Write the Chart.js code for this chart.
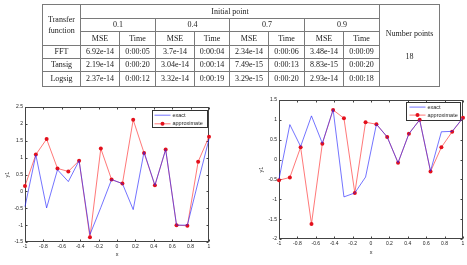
<!doctype html>
<html lang="en">
<head>
<meta charset="utf-8">
<title>Transfer function comparison</title>
<style>
  * { margin: 0; padding: 0; }
  body { width: 467px; height: 265px; background: #fff; position: relative; overflow: hidden; }
  table.res {
    position: absolute; left: 42px; top: 4px; width: 397px;
    border-collapse: collapse; table-layout: fixed;
    font-family: "Liberation Serif", "DejaVu Serif", serif; font-size: 8px; color: #1a1a1a;
    will-change: transform;
  }
  table.res td {
    border: 1px solid #7a7a7a; text-align: center; vertical-align: middle;
    padding: 0; line-height: 11.5px; white-space: nowrap;
  }
  .chartBox { position: absolute; }
</style>
</head>
<body>

<table class="res" id="resTable">
  <colgroup>
    <col style="width:38px"><col style="width:39px"><col style="width:36px"><col style="width:39px"><col style="width:35px">
    <col style="width:39px"><col style="width:36px"><col style="width:39px"><col style="width:36px"><col style="width:60px">
  </colgroup>
  <tbody id="resBody"></tbody>
</table>

<div class="chartBox" style="left:0;top:100px"><canvas id="chartLeft" width="230" height="165"></canvas></div>
<div class="chartBox" style="left:240px;top:90px"><canvas id="chartRight" width="227" height="175"></canvas></div>

<script src="https://cdn.jsdelivr.net/npm/chart.js"></script>
<script>
// ---- table data
const initialPoints = ['0.1', '0.4', '0.7', '0.9'];
const transferFns = ['FFT', 'Tansig', 'Logsig'];
const rowFFT    = ['6.92e-14', '0:00:05', '3.7e-14',  '0:00:04', '2.34e-14', '0:00:06', '3.48e-14', '0:00:09'];
const rowTansig = ['2.19e-14', '0:00:20', '3.04e-14', '0:00:14', '7.49e-15', '0:00:13', '8.83e-15', '0:00:20'];
const rowLogsig = ['2.37e-14', '0:00:12', '3.32e-14', '0:00:19', '3.29e-15', '0:00:20', '2.93e-14', '0:00:18'];
const numberPoints = '18';

// ---- chart data
const xVals = [-1, -0.882, -0.765, -0.647, -0.529, -0.412, -0.294, -0.176, -0.059,
               0.059, 0.176, 0.294, 0.412, 0.529, 0.647, 0.765, 0.882, 1];
const xTicks = [-1, -0.8, -0.6, -0.4, -0.2, 0, 0.2, 0.4, 0.6, 0.8, 1];

const exactLeft  = [-0.45, 1.08, -0.49, 0.64, 0.29, 0.91, -1.28, -0.48, 0.35, 0.23, -0.54, 1.17, 0.18, 1.24, -1.0, -1.0, 0.28, 1.55];
const approxLeft = [0.16, 1.09, 1.55, 0.68, 0.59, 0.91, -1.36, 1.27, 0.35, 0.23, 2.12, 1.14, 0.18, 1.24, -1.0, -1.02, 0.88, 1.62];
const yTicksLeft = [-1.5, -1, -0.5, 0, 0.5, 1, 1.5, 2, 2.5];

const exactRight  = [-0.49, 0.88, 0.33, 1.10, 0.41, 1.26, -0.94, -0.84, -0.44, 0.89, 0.57, -0.08, 0.65, 1.0, -0.29, 0.70, 0.71, 1.05];
const approxRight = [-0.52, -0.45, 0.31, -1.62, 0.40, 1.25, 1.04, -0.84, 0.94, 0.89, 0.57, -0.08, 0.65, 1.0, -0.30, 0.31, 0.70, 1.05];
const yTicksRight = [-2, -1.5, -1, -0.5, 0, 0.5, 1, 1.5];

// build the table
(function buildTable() {
  const body = document.getElementById('resBody');
  let html = '<tr style="height:14px"><td rowspan="3">Transfer<br>function</td><td colspan="8">Initial point</td>' +
             '<td rowspan="6">Number points<br><br>' + numberPoints + '</td></tr>';
  html += '<tr style="height:13px">' + initialPoints.map(p => '<td colspan="2">' + p + '</td>').join('') + '</tr>';
  html += '<tr style="height:14px">' + initialPoints.map(() => '<td>MSE</td><td>Time</td>').join('') + '</tr>';
  const rows = [rowFFT, rowTansig, rowLogsig];
  const hs = [13, 13, 15];
  rows.forEach((r, i) => {
    html += '<tr style="height:' + hs[i] + 'px"><td>' + transferFns[i] + '</td>' + r.map(v => '<td>' + v + '</td>').join('') + '</tr>';
  });
  body.innerHTML = html;
})();

const FONT = '"Liberation Sans", Arial, sans-serif';

// matlab-ish box, inward ticks and boxed legend
const matlabAxes = {
  id: 'matlabAxes',
  beforeDatasetsDraw(chart, args, opts) {
    const ctx = chart.ctx, a = chart.chartArea;
    const xs = chart.scales.x, ys = chart.scales.y;
    ctx.save();
    ctx.strokeStyle = '#444';
    ctx.lineWidth = 1;
    const L = Math.round(a.left) + 0.5, R = Math.round(a.right) - 0.5;
    const T = Math.round(a.top) + 0.5, B = Math.round(a.bottom) - 0.5;
    ctx.strokeRect(L, T, R - L, B - T);
    ctx.beginPath();
    xs.ticks.forEach(t => {
      const px = Math.round(xs.getPixelForValue(t.value)) + 0.5;
      ctx.moveTo(px, B); ctx.lineTo(px, B - 2);
      ctx.moveTo(px, T); ctx.lineTo(px, T + 2);
    });
    ys.ticks.forEach(t => {
      const py = Math.round(ys.getPixelForValue(t.value)) + 0.5;
      ctx.moveTo(L, py); ctx.lineTo(L + 2, py);
      ctx.moveTo(R, py); ctx.lineTo(R - 2, py);
    });
    ctx.stroke();

    // legend
    const g = opts.box;
    const bx = Math.round(a.right - g.right - g.w) + 0.5, by = Math.round(a.top + g.top) + 0.5;
    ctx.fillStyle = '#fff';
    ctx.fillRect(bx, by, g.w, g.h);
    ctx.strokeStyle = '#333';
    ctx.strokeRect(bx, by, g.w, g.h);
    ctx.font = '5.5px ' + FONT;
    ctx.textBaseline = 'middle';
    chart.data.datasets.forEach((ds, i) => {
      const y = by + g.rows[i];
      ctx.strokeStyle = ds.borderColor;
      ctx.lineWidth = 1;
      ctx.beginPath();
      ctx.moveTo(bx + g.x0, y); ctx.lineTo(bx + g.x1, y);
      ctx.stroke();
      if (ds.pointRadius > 0) {
        ctx.fillStyle = ds.pointBackgroundColor;
        ctx.beginPath();
        ctx.arc(bx + (g.x0 + g.x1) / 2, y, ds.pointRadius, 0, Math.PI * 2);
        ctx.fill();
      }
      ctx.fillStyle = '#222';
      ctx.fillText(ds.label, bx + g.tx, y);
    });
    ctx.restore();
  }
};

function makeChart(id, exact, approx, yTicks, geo) {
  const tickFont = { size: 5, family: FONT };
  return new Chart(document.getElementById(id), {
    type: 'line',
    data: {
      datasets: [{
        label: 'exact',
        data: xVals.map((x, i) => ({ x: x, y: exact[i] })),
        borderColor: 'rgba(30,30,255,0.62)',
        borderWidth: 1,
        pointRadius: 0,
        tension: 0,
        clip: 4
      }, {
        label: 'approximate',
        data: xVals.map((x, i) => ({ x: x, y: approx[i] })),
        borderColor: 'rgba(255,30,30,0.6)',
        borderWidth: 1,
        pointRadius: 2,
        pointBorderWidth: 0,
        pointBackgroundColor: '#e3101c',
        tension: 0,
        clip: 4
      }]
    },
    options: {
      responsive: false,
      animation: false,
      layout: { padding: { top: geo.padTop, right: geo.padRight, left: 0, bottom: 0 } },
      plugins: {
        legend: { display: false },
        tooltip: { enabled: false },
        matlabAxes: { box: geo.legend }
      },
      scales: {
        x: {
          type: 'linear', min: -1, max: 1,
          afterBuildTicks: s => { s.ticks = xTicks.map(v => ({ value: v })); },
          afterFit: s => { s.height = geo.xH; },
          grid: { display: false, drawTicks: false }, border: { display: false },
          ticks: { font: tickFont, color: '#222', padding: 2, maxRotation: 0, autoSkip: false, callback: v => String(v) },
          title: { display: true, text: 'x', font: { size: 5.5, family: FONT }, color: '#222', padding: { top: 0, bottom: geo.xTitlePad } }
        },
        y: {
          min: yTicks[0], max: yTicks[yTicks.length - 1],
          afterBuildTicks: s => { s.ticks = yTicks.map(v => ({ value: v })); },
          afterFit: s => { s.width = geo.yW; },
          grid: { display: false, drawTicks: false }, border: { display: false },
          ticks: { font: tickFont, color: '#222', padding: 2, autoSkip: false, callback: v => String(v) },
          title: { display: true, text: 'y1', font: { size: 5.5, family: FONT }, color: '#222', padding: { top: geo.yTitlePad, bottom: 0 } }
        }
      }
    },
    plugins: [matlabAxes]
  });
}

makeChart('chartLeft', exactLeft, approxLeft, yTicksLeft, {
  padTop: 7, padRight: 21, xH: 23, yW: 25, xTitlePad: 7, yTitlePad: 4,
  legend: { right: 2, top: 3, w: 55, h: 17, rows: [4.7, 13.3], x0: 2, x1: 18, tx: 20 }
});
makeChart('chartRight', exactRight, approxRight, yTicksRight, {
  padTop: 10, padRight: 4, xH: 26, yW: 39, xTitlePad: 9, yTitlePad: 18,
  legend: { right: 3, top: 2.4, w: 54, h: 18, rows: [4.6, 12.6], x0: 3, x1: 19, tx: 21 }
});
</script>
</body>
</html>
